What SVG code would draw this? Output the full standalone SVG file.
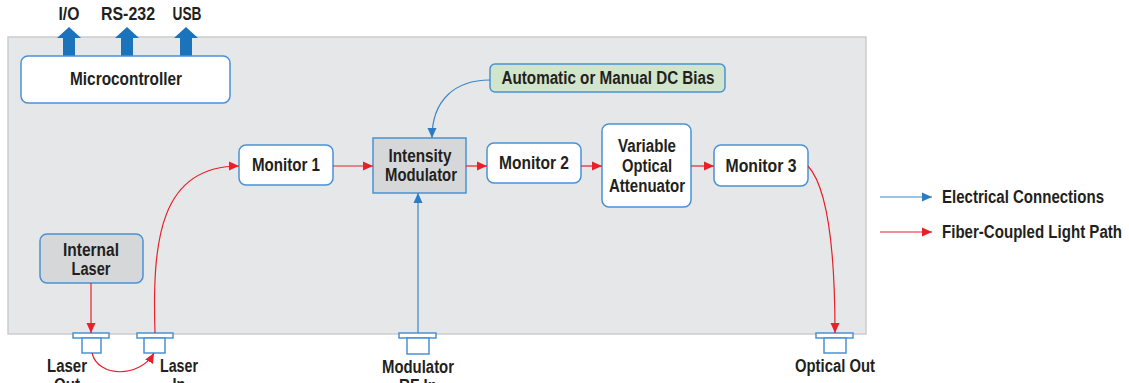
<svg xmlns="http://www.w3.org/2000/svg" width="1129" height="383" viewBox="0 0 1129 383">
<defs>
<style>
.t{font-family:"Liberation Sans",Arial,sans-serif;font-size:18px;font-weight:bold;fill:#231f20;text-anchor:middle;dominant-baseline:central}
.tl{text-anchor:start}
.box{fill:#fff;stroke:#4a92d4;stroke-width:1.5}
.gbox{fill:#d6d7d9;stroke:#4a92d4;stroke-width:1.5}
.red{fill:none;stroke:#e8202a;stroke-width:1.2}
.blue{fill:none;stroke:#3b87c9;stroke-width:1.2}
.conn{fill:#fff;stroke:#4a92d4;stroke-width:1.5}
.big{fill:#1b74bb}
</style>
<marker id="ar" viewBox="0 0 10 10" refX="10" refY="5" markerWidth="10" markerHeight="10" markerUnits="userSpaceOnUse" orient="auto"><path d="M0,0.5 L10,5 L0,9.5 Z" fill="#e8202a"/></marker>
<marker id="ab" viewBox="0 0 10 10" refX="10" refY="5" markerWidth="10" markerHeight="10" markerUnits="userSpaceOnUse" orient="auto"><path d="M0,0.5 L10,5 L0,9.5 Z" fill="#2b7cc4"/></marker>
</defs>
<rect width="1129" height="383" fill="#fff"/>
<rect id="panel" x="8" y="37" width="858" height="297" fill="#e6e7e8" stroke="#cdcdcd" stroke-width="1.5"/>

<g id="io-arrows">
<path class="big" d="M63,56 V38 H57 L69,27 L81,38 H75 V56 Z"/>
<path class="big" d="M121,56 V38 H115 L127,27 L139,38 H133 V56 Z"/>
<path class="big" d="M180,56 V38 H174 L186,27 L198,38 H192 V56 Z"/>
<text class="t" x="69" y="14" textLength="21" lengthAdjust="spacingAndGlyphs">I/O</text>
<text class="t" x="128" y="14" textLength="54" lengthAdjust="spacingAndGlyphs">RS-232</text>
<text class="t" x="187" y="14" textLength="29" lengthAdjust="spacingAndGlyphs">USB</text>
</g>

<g id="microcontroller"><rect class="box" x="21" y="56" width="209" height="47" rx="7"/><text class="t" x="126" y="79" textLength="112" lengthAdjust="spacingAndGlyphs">Microcontroller</text></g>
<g id="internal-laser"><rect class="gbox" x="40" y="234" width="103" height="49" rx="7"/><text class="t" x="91" y="250" textLength="56" lengthAdjust="spacingAndGlyphs">Internal</text><text class="t" x="91" y="269" textLength="39" lengthAdjust="spacingAndGlyphs">Laser</text></g>
<g id="monitor1"><rect class="box" x="239" y="145" width="94" height="40" rx="7"/><text class="t" x="286" y="165" textLength="68" lengthAdjust="spacingAndGlyphs">Monitor 1</text></g>
<g id="intensity-modulator"><rect class="gbox" x="373" y="138" width="93" height="55"/><text class="t" x="420" y="156" textLength="63" lengthAdjust="spacingAndGlyphs">Intensity</text><text class="t" x="421" y="175" textLength="72" lengthAdjust="spacingAndGlyphs">Modulator</text></g>
<g id="monitor2"><rect class="box" x="487" y="143" width="94" height="40" rx="7"/><text class="t" x="534" y="163" textLength="70" lengthAdjust="spacingAndGlyphs">Monitor 2</text></g>
<g id="voa"><rect class="box" x="602" y="124" width="89" height="83" rx="7"/><text class="t" x="647" y="146" textLength="58" lengthAdjust="spacingAndGlyphs">Variable</text><text class="t" x="647" y="166" textLength="50" lengthAdjust="spacingAndGlyphs">Optical</text><text class="t" x="647" y="186" textLength="76" lengthAdjust="spacingAndGlyphs">Attenuator</text></g>
<g id="monitor3"><rect class="box" x="714" y="145" width="94" height="41" rx="7"/><text class="t" x="761" y="166" textLength="71" lengthAdjust="spacingAndGlyphs">Monitor 3</text></g>
<g id="dc-bias"><rect x="490" y="64" width="235" height="28" rx="5" fill="#d0e5cb" stroke="#4a92d4" stroke-width="1.5"/><text class="t" x="608" y="78" textLength="213" lengthAdjust="spacingAndGlyphs">Automatic or Manual DC Bias</text></g>

<g id="laser-out"><rect class="conn" x="73" y="333" width="36" height="5"/><rect class="conn" x="82" y="338" width="19" height="15"/><text class="t" x="67" y="366" textLength="40" lengthAdjust="spacingAndGlyphs">Laser</text><text class="t" x="67" y="385" textLength="26" lengthAdjust="spacingAndGlyphs">Out</text></g>
<g id="laser-in"><rect class="conn" x="137" y="333" width="36" height="5"/><rect class="conn" x="144" y="338" width="21" height="15"/><text class="t" x="179" y="366" textLength="38" lengthAdjust="spacingAndGlyphs">Laser</text><text class="t" x="179" y="385" textLength="13" lengthAdjust="spacingAndGlyphs">In</text></g>
<g id="rf-in"><rect class="conn" x="399" y="333" width="37" height="5"/><rect class="conn" x="407" y="338" width="22" height="16"/><text class="t" x="418" y="367" textLength="72" lengthAdjust="spacingAndGlyphs">Modulator</text><text class="t" x="418" y="386" textLength="38" lengthAdjust="spacingAndGlyphs">RF In</text></g>
<g id="optical-out"><rect class="conn" x="816" y="333" width="37" height="5"/><rect class="conn" x="824" y="338" width="22" height="15"/><text class="t" x="835" y="366" textLength="80" lengthAdjust="spacingAndGlyphs">Optical Out</text></g>

<g id="connectors">
<path class="red" d="M91,283 V333" marker-end="url(#ar)"/>
<path class="red" d="M92,353 C98,378 140,378 154,353" marker-end="url(#ar)"/>
<path class="red" d="M155,333 C152,240 160,166 239,166" marker-end="url(#ar)"/>
<path class="red" d="M333,166 H373" marker-end="url(#ar)"/>
<path class="red" d="M466,166 H487" marker-end="url(#ar)"/>
<path class="red" d="M581,166 H602" marker-end="url(#ar)"/>
<path class="red" d="M691,166 H714" marker-end="url(#ar)"/>
<path class="red" d="M808,166 C830,190 835,260 835,333" marker-end="url(#ar)"/>
<path class="blue" d="M490,80 C455,80 432,100 432,138" marker-end="url(#ab)"/>
<path class="blue" d="M418,333 V193" marker-end="url(#ab)"/>
</g>

<g id="legend">
<path class="blue" d="M880,197 H932" marker-end="url(#ab)"/>
<text class="t tl" x="942" y="197" textLength="162" lengthAdjust="spacingAndGlyphs">Electrical Connections</text>
<path class="red" d="M880,232 H932" marker-end="url(#ar)"/>
<text class="t tl" x="942" y="232" textLength="180" lengthAdjust="spacingAndGlyphs">Fiber-Coupled Light Path</text>
</g>
</svg>
